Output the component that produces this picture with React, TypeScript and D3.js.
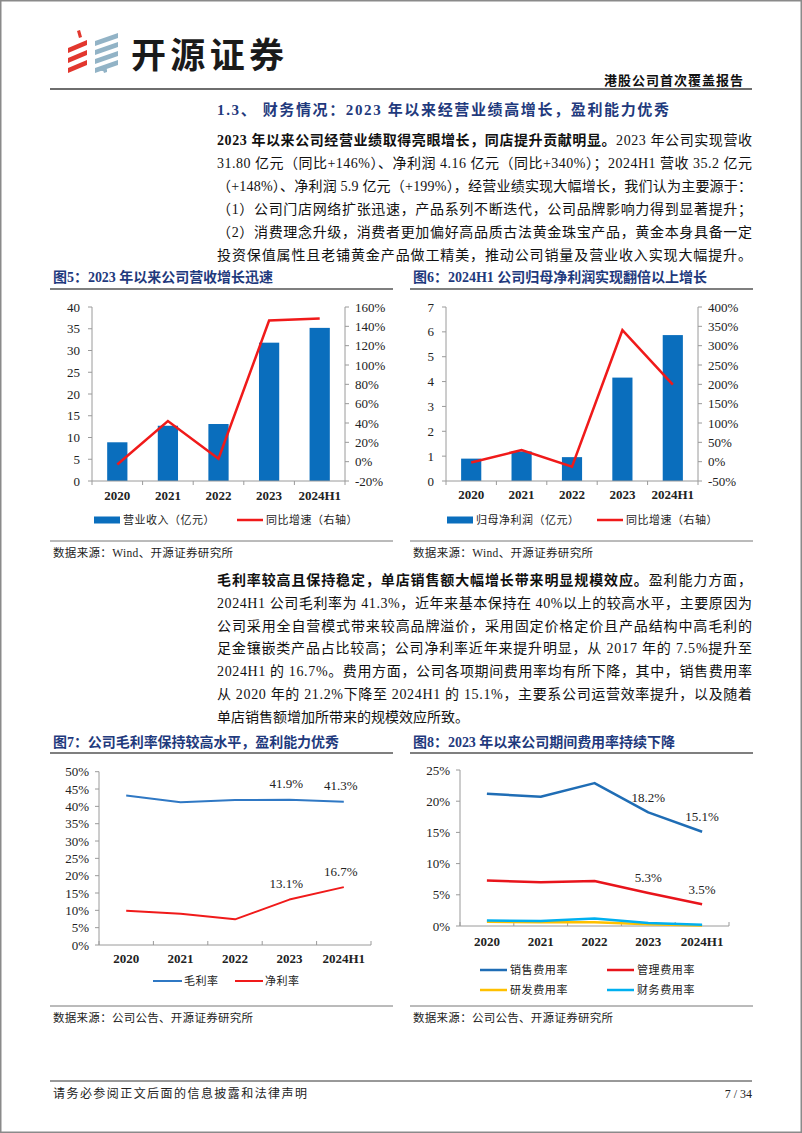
import React from 'react';
import * as d3 from 'd3';

// ---------- data ----------
const years = ['2020', '2021', '2022', '2023', '2024H1'];
const revenue = [8.9, 12.7, 13.1, 31.8, 35.2];
const revenueYoY = [-3, 42, 3, 146, 148];
const netProfit = [0.9, 1.19, 0.96, 4.16, 5.87];
const profitYoY = [-2, 30, -13, 340, 199];
const grossMargin = [43.1, 41.2, 41.8, 41.9, 41.3];
const netMargin = [9.9, 9.0, 7.4, 13.1, 16.7];
const sellingRate = [21.2, 20.7, 22.9, 18.2, 15.1];
const adminRate = [7.3, 7.0, 7.2, 5.3, 3.5];
const rdRate = [0.7, 0.6, 0.6, 0.3, 0.1];
const finRate = [0.9, 0.8, 1.2, 0.5, 0.2];

const revTicksL = [0, 5, 10, 15, 20, 25, 30, 35, 40];
const revTicksR = [-20, 0, 20, 40, 60, 80, 100, 120, 140, 160];
const profTicksL = [0, 1, 2, 3, 4, 5, 6, 7];
const profTicksR = [-50, 0, 50, 100, 150, 200, 250, 300, 350, 400];
const marginTicks = [0, 5, 10, 15, 20, 25, 30, 35, 40, 45, 50];
const expenseTicks = [0, 5, 10, 15, 20, 25];

const para1: [string, boolean][][] = [
  [['2023 年以来公司经营业绩取得亮眼增长，同店提升贡献明显。', true], ['2023 年公司实现营收', false]],
  [['31.80 亿元（同比+146%）、净利润 4.16 亿元（同比+340%）；2024H1 营收 35.2 亿元', false]],
  [['（+148%）、净利润 5.9 亿元（+199%），经营业绩实现大幅增长，我们认为主要源于：', false]],
  [['（1）公司门店网络扩张迅速，产品系列不断迭代，公司品牌影响力得到显著提升；', false]],
  [['（2）消费理念升级，消费者更加偏好高品质古法黄金珠宝产品，黄金本身具备一定', false]],
  [['投资保值属性且老铺黄金产品做工精美，推动公司销量及营业收入实现大幅提升。', false]],
];
const para2: [string, boolean][][] = [
  [['毛利率较高且保持稳定，单店销售额大幅增长带来明显规模效应。', true], ['盈利能力方面，', false]],
  [['2024H1 公司毛利率为 41.3%，近年来基本保持在 40%以上的较高水平，主要原因为', false]],
  [['公司采用全自营模式带来较高品牌溢价，采用固定价格定价且产品结构中高毛利的', false]],
  [['足金镶嵌类产品占比较高；公司净利率近年来提升明显，从 2017 年的 7.5%提升至', false]],
  [['2024H1 的 16.7%。费用方面，公司各项期间费用率均有所下降，其中，销售费用率', false]],
  [['从 2020 年的 21.2%下降至 2024H1 的 15.1%，主要系公司运营效率提升，以及随着', false]],
  [['单店销售额增加所带来的规模效应所致。', false]],
];

// ---------- styles ----------
const SERIF = "'Liberation Serif','Noto Sans CJK SC',serif";
const NAVY = '#1F3A7D';
const AXIS = '#9a9a9a';
const BAR = '#0A6EBD';
const RED = '#F01A1A';

function Paragraph({ lines, x, y0, dy, width, lastFull }: any) {
  return (
    <g>
      {lines.map((ln: [string, boolean][], i: number) => {
        const justify = i < lines.length - 1 || lastFull;
        return (
          <text key={i} x={x} y={y0 + i * dy} fontSize={14} fontFamily={SERIF} fill="#111"
            dominantBaseline="central" {...(justify ? { textLength: width, lengthAdjust: 'spacing' } : {})}>
            {ln.map(([t, b], j) => (
              <tspan key={j} fontWeight={b ? 'bold' : 'normal'}>{t}</tspan>
            ))}
          </text>
        );
      })}
    </g>
  );
}

function FigTitle({ x, y, text, width, lineX0, lineX1, lineY }: any) {
  return (
    <g>
      <text x={x} y={y} fontSize={14} fontWeight="bold" fill={NAVY} fontFamily={SERIF}
        dominantBaseline="central" textLength={width} lengthAdjust="spacing">{text}</text>
      <line x1={lineX0} x2={lineX1} y1={lineY} y2={lineY} stroke="#555" strokeWidth={1.3} />
    </g>
  );
}

function Source({ x, y, text, width, lineX0, lineX1, lineY }: any) {
  return (
    <g>
      <line x1={lineX0} x2={lineX1} y1={lineY} y2={lineY} stroke="#777" strokeWidth={1} />
      <text x={x} y={y} fontSize={11.5} fill="#222" fontFamily={SERIF}
        dominantBaseline="central" textLength={width} lengthAdjust="spacing">{text}</text>
    </g>
  );
}

function XAxis({ xs, y, x0, x1, labelY, boundaries, tickDir = 1 }: any) {
  return (
    <g>
      <line x1={x0} x2={x1} y1={y} y2={y} stroke={AXIS} strokeWidth={1} />
      {boundaries.map((b: number, i: number) => (
        <line key={i} x1={b} x2={b} y1={y} y2={y + tickDir * 4} stroke={AXIS} strokeWidth={1} />
      ))}
      {years.map((yr) => (
        <text key={yr} x={xs(yr)} y={labelY} textAnchor="middle" dominantBaseline="central"
          fontSize={13} fontWeight="bold" fill="#222" fontFamily={SERIF}>{yr}</text>
      ))}
    </g>
  );
}

function YAxis({ scale, ticks, x, side, labelX, fmt, showLine = true }: any) {
  const [r0, r1] = scale.range();
  const dir = side === 'left' ? -1 : 1;
  return (
    <g>
      {showLine && <line x1={x} x2={x} y1={r0} y2={r1} stroke={AXIS} strokeWidth={1} />}
      {ticks.map((t: number) => (
        <g key={t}>
          <line x1={x} x2={x + dir * 4} y1={scale(t)} y2={scale(t)} stroke={AXIS} strokeWidth={1} />
          <text x={labelX} y={scale(t)} textAnchor={side === 'left' ? 'end' : 'start'}
            dominantBaseline="central" fontSize={13} fill="#222" fontFamily={SERIF}>{fmt(t)}</text>
        </g>
      ))}
    </g>
  );
}

function ComboChart({ x0, x1, yTop, yBot, bars, line, ticksL, ticksR, domL, domR, labelLX, labelRX, xLabelY, legendY, legend }: any) {
  const xb = d3.scaleBand<string>().domain(years).range([x0, x1]).paddingInner(0.6).paddingOuter(0.3);
  const yl = d3.scaleLinear().domain(domL).range([yBot, yTop]);
  const yr = d3.scaleLinear().domain(domR).range([yBot, yTop]);
  const cx = (yr0: string) => (xb(yr0) as number) + xb.bandwidth() / 2;
  const step = (x1 - x0) / years.length;
  const boundaries = d3.range(years.length + 1).map((i) => x0 + i * step);
  const lineGen = d3.line<number>().x((_, i) => cx(years[i])).y((d) => yr(d));
  return (
    <g>
      {bars.map((v: number, i: number) => (
        <rect key={i} x={xb(years[i])} y={yl(v)} width={xb.bandwidth()} height={yBot - yl(v)} fill={BAR} />
      ))}
      <YAxis scale={yl} ticks={ticksL} x={x0} side="left" labelX={labelLX} fmt={(t: number) => `${t}`} />
      <YAxis scale={yr} ticks={ticksR} x={x1} side="right" labelX={labelRX} fmt={(t: number) => `${t}%`} />
      <XAxis xs={cx} y={yBot} x0={x0} x1={x1} labelY={xLabelY} boundaries={boundaries} />
      <path d={lineGen(line) as string} fill="none" stroke={RED} strokeWidth={2.5} strokeLinejoin="miter" />
      <rect x={legend.barX} y={legendY - 3.5} width={26} height={7} fill={BAR} />
      <text x={legend.barX + 29} y={legendY} dominantBaseline="central" fontSize={11} letterSpacing={0.5} fill="#222" fontFamily={SERIF}>{legend.barText}</text>
      <line x1={legend.lineX} x2={legend.lineX + 26} y1={legendY} y2={legendY} stroke={RED} strokeWidth={2.5} />
      <text x={legend.lineX + 29} y={legendY} dominantBaseline="central" fontSize={11} letterSpacing={0.5} fill="#222" fontFamily={SERIF}>{legend.lineText}</text>
    </g>
  );
}

function LineChart({ x0, x1, yTop, yBot, dom, ticks, labelX, xLabelY, series, labels, labelDx, labelDy }: any) {
  const xp = d3.scalePoint<string>().domain(years).range([x0, x1]).padding(0.5);
  const ys = d3.scaleLinear().domain(dom).range([yBot, yTop]);
  const step = (x1 - x0) / years.length;
  const boundaries = d3.range(years.length + 1).map((i) => x0 + i * step);
  const lineGen = d3.line<number>().x((_, i) => xp(years[i]) as number).y((d) => ys(d));
  return (
    <g>
      <YAxis scale={ys} ticks={ticks} x={x0} side="left" labelX={labelX} fmt={(t: number) => `${t}%`} />
      <XAxis xs={(y: string) => xp(y)} y={yBot} x0={x0} x1={x1} labelY={xLabelY} boundaries={boundaries} tickDir={-1} />
      {series.map((s: any, i: number) => (
        <path key={i} d={lineGen(s.values) as string} fill="none" stroke={s.color} strokeWidth={s.width} strokeLinejoin="round" />
      ))}
      {labels.map((l: any, i: number) => (
        <text key={i} x={(xp(years[l.i]) as number) + labelDx} y={ys(l.v) + labelDy} textAnchor="middle"
          dominantBaseline="central" fontSize={13} fill="#222" fontFamily={SERIF}>{`${l.v.toFixed(1)}%`}</text>
      ))}
    </g>
  );
}

function Logo() {
  const red = '#E2372E';
  const blue = '#92B3C6';
  const redBars = [40, 50, 60];
  const blueBars = [33, 42, 51, 60];
  return (
    <g>
      <path d="M77,31 L80,30 L82,37 L79,38 Z" fill={red} />
      {redBars.map((y, i) => (
        <path key={i} d={`M68,${y + 8} L87,${y} L87,${y + 5} L68,${y + 13} Z`} fill={red} />
      ))}
      {blueBars.map((y, i) => (
        <path key={i} d={`M95,${y + 8} L118,${y} L118,${y + 5} L95,${y + 13} Z`} fill={blue} />
      ))}
      <path d="M100,68 Q108,66 107,72 L104,73 Q104,70 100,71 Z" fill={blue} />
    </g>
  );
}

export default function App() {
  const bodyX = 217;
  const bodyW = 535;
  return (
    <svg width={802} height={1133} style={{ position: 'absolute', left: 0, top: 0, background: '#fff' }}
      fontFamily={SERIF}>
      <rect x={0} y={0} width={802} height={1133} fill="#fff" />
      <rect x={0.75} y={0.75} width={800.5} height={1131.5} fill="none" stroke="#8a8a8a" strokeWidth={1.5} />

      {/* header */}
      <Logo />
      <text x={131} y={52} fontSize={35} fontWeight="bold" fill="#1a1a1a" dominantBaseline="central"
        fontFamily="'Noto Sans CJK SC',sans-serif" textLength={153} lengthAdjust="spacing">开源证券</text>
      <text x={744} y={80} textAnchor="end" fontSize={13} fontWeight="bold" fill="#111" dominantBaseline="central"
        fontFamily={SERIF} letterSpacing={1}>港股公司首次覆盖报告</text>
      <line x1={50} x2={752} y1={89} y2={89} stroke="#6e6e6e" strokeWidth={2} />

      {/* section heading */}
      <text x={bodyX} y={110} fontSize={15} fontWeight="bold" fill={NAVY} dominantBaseline="central"
        fontFamily={SERIF} textLength={452} lengthAdjust="spacing">1.3、 财务情况：2023 年以来经营业绩高增长，盈利能力优秀</text>

      <Paragraph lines={para1} x={bodyX} y0={140} dy={23} width={bodyW} lastFull={true} />

      {/* Figure 5 & 6 */}
      <FigTitle x={53} y={277} text="图5：2023 年以来公司营收增长迅速" width={220} lineX0={50} lineX1={393} lineY={289} />
      <FigTitle x={413} y={277} text="图6：2024H1 公司归母净利润实现翻倍以上增长" width={294} lineX0={410} lineX1={753} lineY={289} />

      <ComboChart x0={92} x1={345} yTop={307} yBot={481} bars={revenue} line={revenueYoY}
        ticksL={revTicksL} ticksR={revTicksR} domL={[0, 40]} domR={[-20, 160]}
        labelLX={80} labelRX={355} xLabelY={495} legendY={520}
        legend={{ barX: 94, barText: '营业收入（亿元）', lineX: 237, lineText: '同比增速（右轴）' }} />
      <ComboChart x0={446} x1={698} yTop={307} yBot={481} bars={netProfit} line={profitYoY}
        ticksL={profTicksL} ticksR={profTicksR} domL={[0, 7]} domR={[-50, 400]}
        labelLX={434} labelRX={708} xLabelY={494} legendY={520}
        legend={{ barX: 447, barText: '归母净利润（亿元）', lineX: 597, lineText: '同比增速（右轴）' }} />

      <Source x={53} y={553} text="数据来源：Wind、开源证券研究所" width={180} lineX0={50} lineX1={393} lineY={541} />
      <Source x={413} y={553} text="数据来源：Wind、开源证券研究所" width={180} lineX0={410} lineX1={753} lineY={541} />

      <Paragraph lines={para2} x={bodyX} y0={580} dy={22.8} width={bodyW} lastFull={false} />

      {/* Figure 7 & 8 */}
      <FigTitle x={53} y={742} text="图7：公司毛利率保持较高水平，盈利能力优秀" width={286} lineX0={50} lineX1={393} lineY={753} />
      <FigTitle x={413} y={742} text="图8：2023 年以来公司期间费用率持续下降" width={262} lineX0={410} lineX1={753} lineY={753} />

      <LineChart x0={99} x1={371} yTop={771.7} yBot={945} dom={[0, 50]} ticks={marginTicks} labelX={89}
        xLabelY={958}
        series={[
          { values: grossMargin, color: '#2F78C4', width: 2 },
          { values: netMargin, color: RED, width: 2 },
        ]}
        labels={[{ i: 3, v: grossMargin[3] }, { i: 4, v: grossMargin[4] }, { i: 3, v: netMargin[3] }, { i: 4, v: netMargin[4] }]}
        labelDx={-3} labelDy={-16} />
      {/* legend fig 7 */}
      <line x1={153} x2={182} y1={981} y2={981} stroke="#2F78C4" strokeWidth={2} />
      <text x={184} y={981} dominantBaseline="central" fontSize={11} letterSpacing={0.5} fill="#222">毛利率</text>
      <line x1={235} x2={263} y1={981} y2={981} stroke={RED} strokeWidth={2} />
      <text x={265} y={981} dominantBaseline="central" fontSize={11} letterSpacing={0.5} fill="#222">净利率</text>

      <LineChart x0={460} x1={729} yTop={770} yBot={926} dom={[0, 25]} ticks={expenseTicks} labelX={450}
        xLabelY={941}
        series={[
          { values: rdRate, color: '#FFC000', width: 2.5 },
          { values: finRate, color: '#00B0F0', width: 2.5 },
          { values: adminRate, color: '#E8141B', width: 2.5 },
          { values: sellingRate, color: '#1F6DB5', width: 2.5 },
        ]}
        labels={[{ i: 3, v: sellingRate[3] }, { i: 4, v: sellingRate[4] }, { i: 3, v: adminRate[3] }, { i: 4, v: adminRate[4] }]}
        labelDx={0} labelDy={-15} />
      {/* legend fig 8 */}
      {[
        { t: '销售费用率', c: '#1F6DB5', x: 480, y: 970 },
        { t: '管理费用率', c: '#E8141B', x: 607, y: 970 },
        { t: '研发费用率', c: '#FFC000', x: 480, y: 990 },
        { t: '财务费用率', c: '#00B0F0', x: 607, y: 990 },
      ].map((l) => (
        <g key={l.t}>
          <line x1={l.x} x2={l.x + 27} y1={l.y} y2={l.y} stroke={l.c} strokeWidth={2.5} />
          <text x={l.x + 30} y={l.y} dominantBaseline="central" fontSize={11} letterSpacing={0.6} fill="#222">{l.t}</text>
        </g>
      ))}

      <Source x={53} y={1018} text="数据来源：公司公告、开源证券研究所" width={200} lineX0={50} lineX1={393} lineY={1006} />
      <Source x={413} y={1018} text="数据来源：公司公告、开源证券研究所" width={200} lineX0={410} lineX1={753} lineY={1006} />

      {/* footer */}
      <line x1={50} x2={752} y1={1081} y2={1081} stroke="#333" strokeWidth={1} />
      <text x={53} y={1094} dominantBaseline="central" fontSize={12} fill="#222" textLength={254} lengthAdjust="spacing">请务必参阅正文后面的信息披露和法律声明</text>
      <text x={752} y={1094} textAnchor="end" dominantBaseline="central" fontSize={12} fill="#222">7 / 34</text>
    </svg>
  );
}
